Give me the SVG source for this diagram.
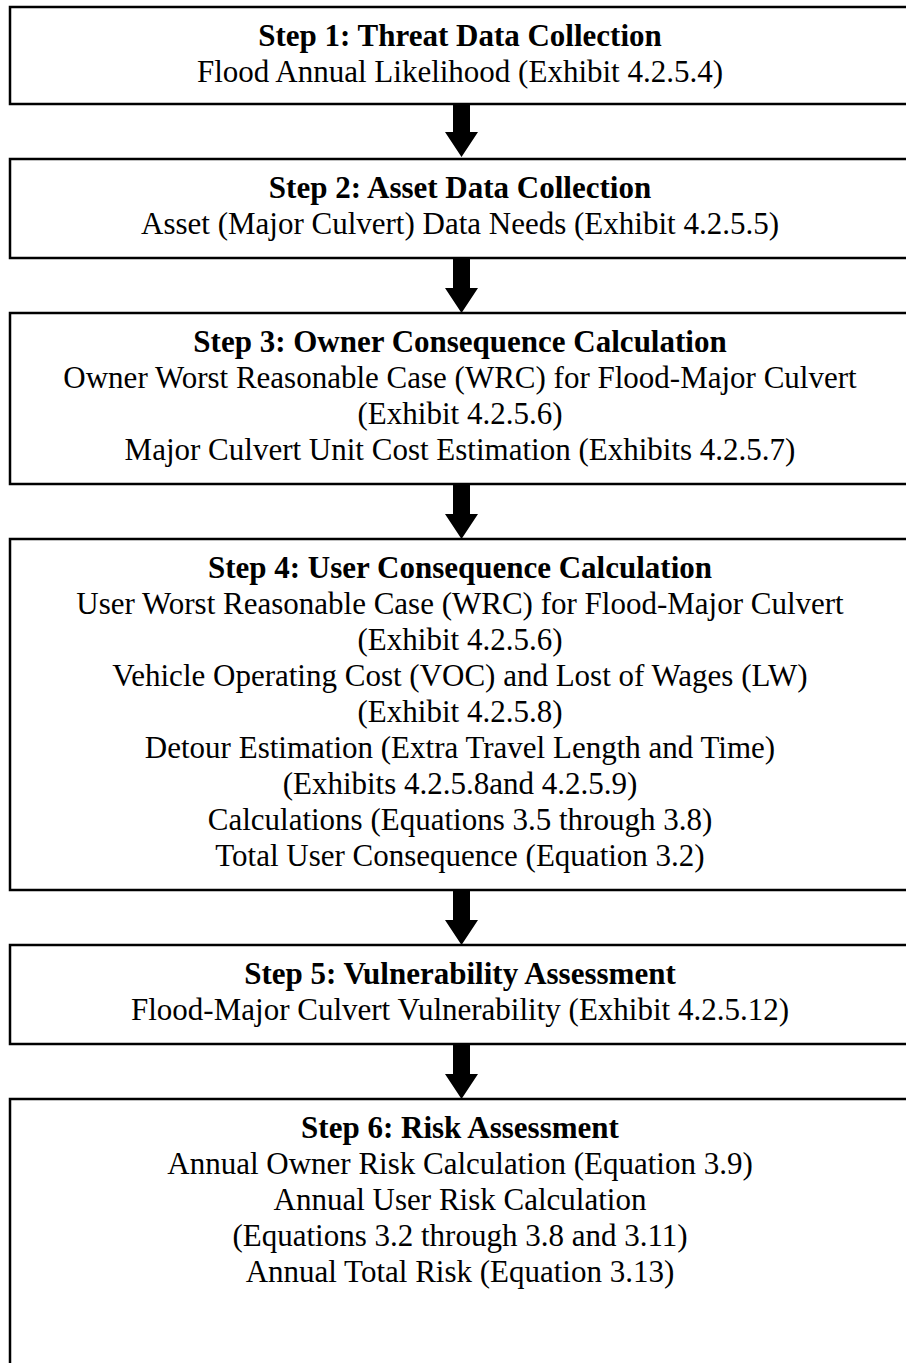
<svg xmlns="http://www.w3.org/2000/svg" width="906" height="1363" viewBox="0 0 906 1363">
<style>
.box{fill:#fff;stroke:#000;stroke-width:2.5}
text{font-family:"Liberation Serif","Times New Roman",serif;font-size:31px;fill:#000;text-anchor:middle}
.t{font-weight:bold}
.arr{fill:#000}
</style>
<rect x="0" y="0" width="906" height="1363" fill="#fff"/>
<g id="step1">
<rect class="box" x="10" y="7" width="910" height="97"/>
<text class="t" x="460" y="46">Step 1: Threat Data Collection</text>
<text x="460" y="82">Flood Annual Likelihood (Exhibit 4.2.5.4)</text>
</g>
<g id="step2">
<rect class="box" x="10" y="159" width="910" height="99"/>
<text class="t" x="460" y="198">Step 2: Asset Data Collection</text>
<text x="460" y="234">Asset (Major Culvert) Data Needs (Exhibit 4.2.5.5)</text>
</g>
<g id="step3">
<rect class="box" x="10" y="313" width="910" height="171"/>
<text class="t" x="460" y="352">Step 3: Owner Consequence Calculation</text>
<text x="460" y="388">Owner Worst Reasonable Case (WRC) for Flood-Major Culvert</text>
<text x="460" y="424">(Exhibit 4.2.5.6)</text>
<text x="460" y="460">Major Culvert Unit Cost Estimation (Exhibits 4.2.5.7)</text>
</g>
<g id="step4">
<rect class="box" x="10" y="539" width="910" height="351"/>
<text class="t" x="460" y="578">Step 4: User Consequence Calculation</text>
<text x="460" y="614">User Worst Reasonable Case (WRC) for Flood-Major Culvert</text>
<text x="460" y="650">(Exhibit 4.2.5.6)</text>
<text x="460" y="686">Vehicle Operating Cost (VOC) and Lost of Wages (LW)</text>
<text x="460" y="722">(Exhibit 4.2.5.8)</text>
<text x="460" y="758">Detour Estimation (Extra Travel Length and Time)</text>
<text x="460" y="794">(Exhibits 4.2.5.8and 4.2.5.9)</text>
<text x="460" y="830">Calculations (Equations 3.5 through 3.8)</text>
<text x="460" y="866">Total User Consequence (Equation 3.2)</text>
</g>
<g id="step5">
<rect class="box" x="10" y="945" width="910" height="99"/>
<text class="t" x="460" y="984">Step 5: Vulnerability Assessment</text>
<text x="460" y="1020">Flood-Major Culvert Vulnerability (Exhibit 4.2.5.12)</text>
</g>
<g id="step6">
<rect class="box" x="10" y="1099" width="910" height="400"/>
<text class="t" x="460" y="1138">Step 6: Risk Assessment</text>
<text x="460" y="1174">Annual Owner Risk Calculation (Equation 3.9)</text>
<text x="460" y="1210">Annual User Risk Calculation</text>
<text x="460" y="1246">(Equations 3.2 through 3.8 and 3.11)</text>
<text x="460" y="1282">Annual Total Risk (Equation 3.13)</text>
</g>
<g id="connectors">
<polygon class="arr" points="453,104 470,104 470,132 478,132 461.5,157 445,132 453,132"/>
<polygon class="arr" points="453,258 470,258 470,288 478,288 461.5,313 445,288 453,288"/>
<polygon class="arr" points="453,484 470,484 470,514 478,514 461.5,539 445,514 453,514"/>
<polygon class="arr" points="453,890 470,890 470,920 478,920 461.5,945 445,920 453,920"/>
<polygon class="arr" points="453,1044 470,1044 470,1074 478,1074 461.5,1099 445,1074 453,1074"/>
</g>
</svg>
